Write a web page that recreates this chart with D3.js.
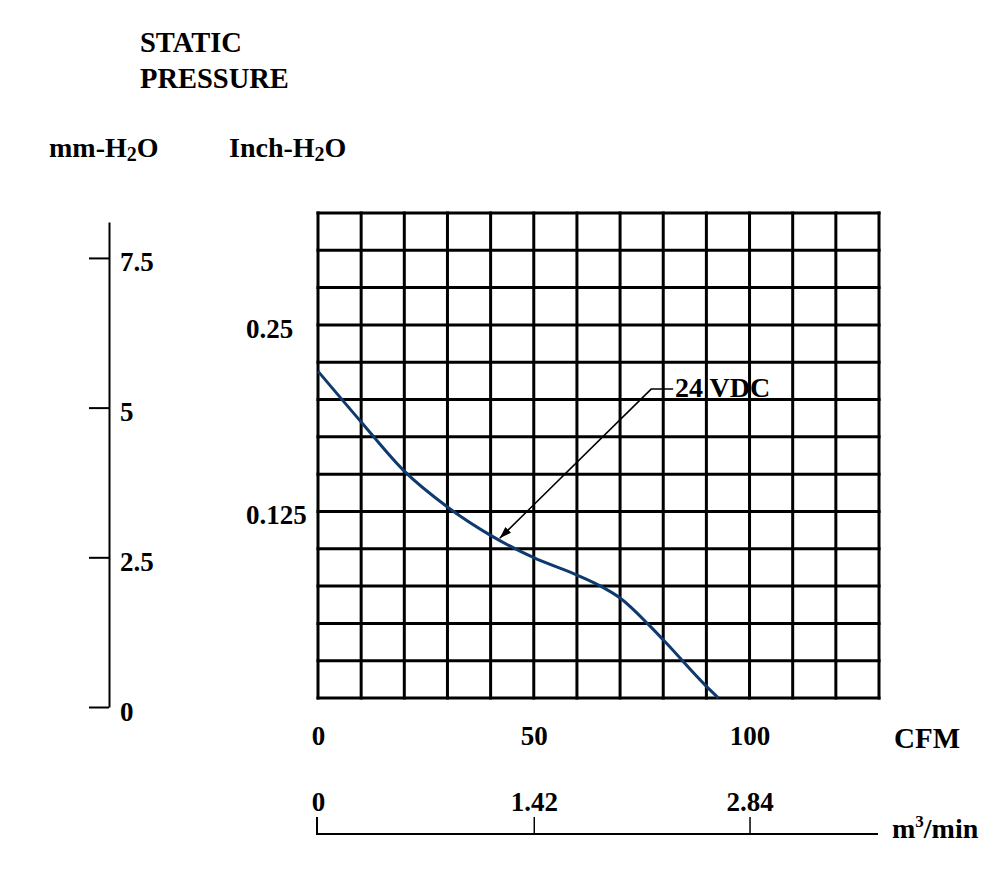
<!DOCTYPE html>
<html>
<head>
<meta charset="utf-8">
<script src="https://cdn.jsdelivr.net/npm/d3@7"></script>
<style>
  body { margin: 0; background: #fff; }
  svg text { font-family: "Liberation Serif", "Times New Roman", serif; font-weight: bold; fill: #000; }
</style>
</head>
<body>
<div id="chart"></div>
<script>
// fan curve
var cfmValues = [0, 10, 20, 30, 40, 50, 60, 65, 70, 77, 80, 90, 92.8];
var pressureInch = [0.219, 0.185, 0.152, 0.128, 0.109, 0.094, 0.0824, 0.0757, 0.067, 0.048, 0.039, 0.0078, 0];

var cfmTicks = [0, 50, 100];
var inchTicks = [0.125, 0.25];
var mmTicks = [0, 2.5, 5, 7.5];
var m3Ticks = [0, 1.42, 2.84];
var curveLabel = "24 VDC";

var svg = d3.select("#chart").append("svg")
    .attr("width", 1000)
    .attr("height", 887);

svg.append("rect").attr("width", 1000).attr("height", 887).attr("fill", "#fff");

var x = d3.scaleLinear().domain([0, 130]).range([318, 879]); // CFM
var y = d3.scaleLinear().domain([0, 0.325]).range([698, 213]); // inch-H2O
var yMm = d3.scaleLinear().domain([0, 8.1]).range([707, 222]); // mm-H2O
var xM3 = d3.scaleLinear().domain([0, 130 * 0.0284]).range([318, 879]); // m3/min

// grid
var grid = svg.append("g").attr("stroke", "#000").attr("stroke-width", 3);
grid.selectAll("line.v")
    .data(d3.range(0, 131, 10))
    .enter().append("line")
    .attr("class", "v")
    .attr("x1", d => x(d)).attr("x2", d => x(d))
    .attr("y1", y(0.325) - 1.5).attr("y2", y(0) + 1.5);
grid.selectAll("line.h")
    .data(d3.range(0, 14).map(i => i * 0.025))
    .enter().append("line")
    .attr("class", "h")
    .attr("y1", d => y(d)).attr("y2", d => y(d))
    .attr("x1", x(0) - 1.5).attr("x2", x(130) + 1.5);

// curve
var line = d3.line()
    .x((d, i) => x(cfmValues[i]))
    .y(d => y(d))
    .curve(d3.curveMonotoneX);
svg.append("path")
    .datum(pressureInch)
    .attr("d", line)
    .attr("fill", "none")
    .attr("stroke", "#0f3a6e")
    .attr("stroke-width", 3);

// leader arrow to the curve
svg.append("defs").append("marker")
    .attr("id", "arrow")
    .attr("viewBox", "0 0 12 8")
    .attr("refX", 12).attr("refY", 4)
    .attr("markerWidth", 12).attr("markerHeight", 8)
    .attr("markerUnits", "userSpaceOnUse")
    .attr("orient", "auto")
    .append("path").attr("d", "M0,0 L12,4 L0,8 Z").attr("fill", "#000");

svg.append("path")
    .attr("d", `M${x(82.3)},${y(0.207)} L${x(77.2)},${y(0.207)} L${x(42.1)},${y(0.107)}`)
    .attr("fill", "none")
    .attr("stroke", "#000")
    .attr("stroke-width", 1.5)
    .attr("marker-end", "url(#arrow)");

svg.append("text")
    .attr("x", 675).attr("y", 397)
    .style("font-size", "28px")
    .text(curveLabel);

// inch-H2O tick labels
svg.append("g").selectAll("text")
    .data(inchTicks)
    .enter().append("text")
    .attr("x", 246)
    .attr("y", d => y(d) + 13)
    .style("font-size", "27px")
    .text(d => d);

// mm-H2O axis (ticks to the left, labels on the right)
var mmAxis = svg.append("g")
    .attr("transform", "translate(109,0)")
    .call(d3.axisLeft(yMm).tickValues(mmTicks).tickSizeInner(20).tickSizeOuter(0).tickFormat(d => d));
mmAxis.select(".domain").attr("stroke-width", 2);
mmAxis.selectAll(".tick line").attr("stroke-width", 2);
mmAxis.selectAll(".tick text")
    .attr("x", 11).attr("dy", 13)
    .attr("text-anchor", "start")
    .style("font-size", "27px");

// CFM labels
var cfmAxis = svg.append("g")
    .attr("transform", "translate(0,745)")
    .call(d3.axisBottom(x).tickValues(cfmTicks).tickSize(0).tickFormat(d => d));
cfmAxis.select(".domain").remove();
cfmAxis.selectAll(".tick text")
    .attr("y", 0).attr("dy", 0)
    .style("font-size", "27px");

// m3/min axis
var m3Axis = svg.append("g")
    .attr("transform", "translate(0,834)")
    .call(d3.axisTop(xM3).tickValues(m3Ticks).tickSizeInner(17).tickSizeOuter(0).tickPadding(6).tickFormat(d => d === 0 ? "0" : d3.format(".2f")(d)));
m3Axis.select(".domain").attr("d", "M317,-17V0H878").attr("stroke-width", 2);
m3Axis.selectAll(".tick line").attr("stroke-width", 1.5);
m3Axis.selectAll(".tick text").style("font-size", "27px");
m3Axis.selectAll(".tick").filter(d => d === 0).select("line").remove();
svg.selectAll(".tick text").attr("font-family", null).attr("font-size", null).attr("fill", "#000");

// titles and unit labels
svg.append("text").attr("x", 140).attr("y", 52).style("font-size", "28.5px").text("STATIC");
svg.append("text").attr("x", 140).attr("y", 88).style("font-size", "28.5px").text("PRESSURE");

var mmLabel = svg.append("text").attr("x", 49).attr("y", 157).style("font-size", "28px");
mmLabel.append("tspan").text("mm-H");
mmLabel.append("tspan").attr("dy", 4).style("font-size", "20px").text("2");
mmLabel.append("tspan").attr("dy", -4).text("O");

var inchLabel = svg.append("text").attr("x", 229).attr("y", 157).style("font-size", "28px");
inchLabel.append("tspan").text("Inch-H");
inchLabel.append("tspan").attr("dy", 4).style("font-size", "20px").text("2");
inchLabel.append("tspan").attr("dy", -4).text("O");

svg.append("text").attr("x", 894).attr("y", 748).style("font-size", "29px").text("CFM");

var m3Label = svg.append("text").attr("x", 892).attr("y", 838).style("font-size", "28px");
m3Label.append("tspan").text("m");
m3Label.append("tspan").attr("dy", -11).style("font-size", "17px").text("3");
m3Label.append("tspan").attr("dy", 11).text("/min");
</script>
</body>
</html>
